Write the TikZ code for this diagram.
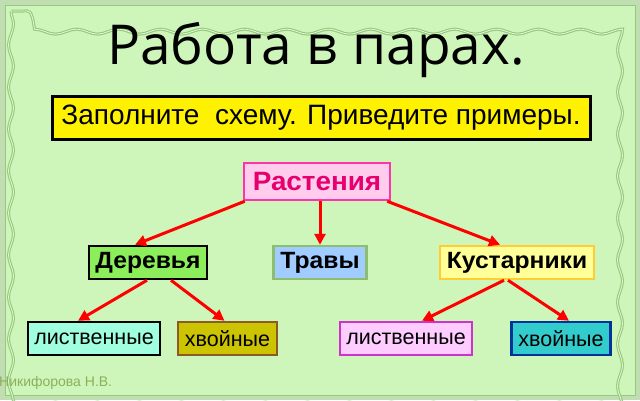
\documentclass[tikz,border=0pt]{standalone}
\usepackage{fontspec}
\setmainfont{Liberation Sans}
\newfontfamily\titlefont{Open Sans}
\newfontfamily\boxbold[FakeStretch=1.05]{Liberation Sans Bold}
\usetikzlibrary{arrows.meta,
                positioning,
                decorations.pathmorphing}
\definecolor{bggreen}{RGB}{206,246,186}
\definecolor{framegreen}{RGB}{150,200,125}
\definecolor{rootfill}{RGB}{255,204,238}
\definecolor{rootdraw}{RGB}{255,51,170}
\definecolor{roottext}{RGB}{230,0,110}
\definecolor{treefill}{RGB}{140,238,90}
\definecolor{herbfill}{RGB}{160,204,255}
\definecolor{herbdraw}{RGB}{140,190,110}
\definecolor{bushfill}{RGB}{255,255,153}
\definecolor{bushdraw}{RGB}{255,204,51}
\definecolor{leaffill}{RGB}{160,255,222}
\definecolor{needlefill}{RGB}{204,196,0}
\definecolor{needledraw}{RGB}{140,90,40}
\definecolor{leafRfill}{RGB}{255,204,255}
\definecolor{leafRdraw}{RGB}{204,51,204}
\definecolor{needleRfill}{RGB}{51,204,204}
\definecolor{needleRdraw}{RGB}{0,51,153}
\definecolor{authorgreen}{RGB}{140,175,90}
\tikzset{
        base/.style={draw, line width=2.5pt, align=center, inner sep=0pt,
                     minimum height=33pt},
        task/.style={base, fill=yellow, draw=black, line width=3pt,
                     minimum width=538pt, minimum height=43pt,
                     font=\fontsize{28}{30}\selectfont},
        root/.style={base, fill=rootfill, draw=rootdraw, text=roottext,
                     minimum width=146pt, minimum height=37pt,
                     font=\boxbold\fontsize{26.5}{28}\selectfont},
        kind/.style={base, font=\boxbold\fontsize{23.5}{25}\selectfont},
        sub/.style={base, font=\fontsize{21.5}{23}\selectfont},
        myarrow/.style={-{Triangle[length=11pt,width=11pt]}, line width=3pt,
                        draw=red},
 }

\begin{document}
\begin{tikzpicture}[x=1pt, y=-1pt]
        \useasboundingbox (0,0) rectangle (640,400);
        % Hintergrund und Rahmen
        \fill[bggreen] (0,0) rectangle (640,400);
        \draw[framegreen!60, line width=5pt] (2.5,2.5) rectangle (637.5,397.5);
        \draw[framegreen, line width=0.6pt] (5,5) rectangle (635,395);
        \draw[framegreen, line width=3pt, decorate,
              decoration={snake, amplitude=2.5pt, segment length=42pt}]
              (11,11) rectangle (629,389);
        \draw[bggreen!60!white, line width=0.8pt, decorate,
              decoration={snake, amplitude=2.5pt, segment length=42pt}]
              (11,11) rectangle (629,389);

        \node[font=\titlefont\fontsize{55}{58}\selectfont] (title)
              at (316,50) {Работа в парах.};
        \node[task] (task) at (321,118) {Заполните\ \ схему. Приведите примеры.};

        \node[root] (plants) at (317,181.5) {Растения};

        \node[kind, fill=treefill, draw=black, minimum width=118pt]
              (trees) at (148,262.5) {Деревья};
        \node[kind, fill=herbfill, draw=herbdraw, minimum width=93pt]
              (herbs) at (320,262.5) {Травы};
        \node[kind, fill=bushfill, draw=bushdraw, minimum width=154pt]
              (bushes) at (517,262.5) {Кустарники};

        \node[sub, fill=leaffill, draw=black, minimum width=132pt]
              (leaf1) at (94,338.5) {лиственные};
        \node[sub, fill=needlefill, draw=needledraw, minimum width=99pt]
              (needle1) at (227.5,338.5) {хвойные};
        \node[sub, fill=leafRfill, draw=leafRdraw, minimum width=132pt]
              (leaf2) at (406,338.5) {лиственные};
        \node[sub, fill=needleRfill, draw=needleRdraw, minimum width=99pt]
              (needle2) at (561,338.5) {хвойные};

        \node[anchor=west, inner sep=0pt, text=authorgreen,
              font=\fontsize{14}{16}\selectfont]
              (author) at (-1,383) {Никифорова Н.В.};

        \draw[myarrow] ([xshift=2pt]plants.south west) -- ([xshift=-13pt]trees.north);
        \draw[myarrow] ([xshift=3pt]plants.south) -- (herbs.north);
        \draw[myarrow] ([xshift=-4pt]plants.south east) -- ([xshift=-17pt]bushes.north);

        \draw[myarrow] ([xshift=-1pt]trees.south) -- ([xshift=-16pt]leaf1.north);
        \draw[myarrow] ([xshift=23pt]trees.south) -- ([xshift=-3pt]needle1.north);
        \draw[myarrow] ([xshift=-13pt]bushes.south) -- ([xshift=16pt]leaf2.north);
        \draw[myarrow] ([xshift=-9pt]bushes.south) -- ([xshift=8pt]needle2.north);
\end{tikzpicture}
\end{document}
